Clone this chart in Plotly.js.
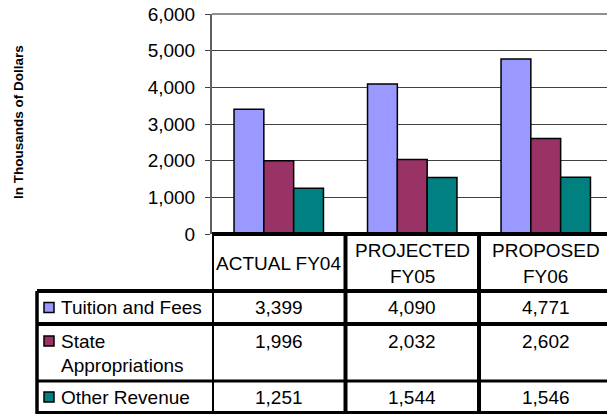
<!DOCTYPE html>
<html>
<head>
<meta charset="utf-8">
<script src="https://cdn.plot.ly/plotly-3.0.1.min.js"></script>
<style>
html,body{margin:0;padding:0;background:#fff;overflow:hidden;}
#chart{width:607px;height:414px;}
</style>
</head>
<body>
<div id="chart"></div>
<script>
// ---- data ----
const categories = ['ACTUAL FY04', 'PROJECTED FY05', 'PROPOSED FY06'];
const headerLines = [['ACTUAL FY04'], ['PROJECTED', 'FY05'], ['PROPOSED', 'FY06']];
const seriesNames = ['Tuition and Fees', 'State Appropriations', 'Other Revenue'];
const seriesLegendLines = [['Tuition and Fees'], ['State', 'Appropriations'], ['Other Revenue']];
const tuitionFees = [3399, 4090, 4771];
const stateAppropriations = [1996, 2032, 2602];
const otherRevenue = [1251, 1544, 1546];
const yTicks = [0, 1000, 2000, 3000, 4000, 5000, 6000];
const yTitle = 'In Thousands of Dollars';

// ---- styles ----
const colors = ['#9999FF', '#993366', '#008080'];
const FONT = '"Liberation Sans", Arial, sans-serif';
const FS = 19;
const seriesValues = [tuitionFees, stateAppropriations, otherRevenue];

// pixel helpers (plot area: x 212..607, y 14..234)
const L = 212, W = 395, T = 14, B = 234, H = 220, COLW = 133.5;
const px = v => (v - L) / W;
const py = v => (B - v) / H;

const traces = seriesNames.map((n, i) => ({
  type: 'bar', name: n, x: categories, y: seriesValues[i],
  marker: {color: colors[i], line: {color: '#000', width: 1.5}},
  hoverinfo: 'none'
}));

const shapes = [];
const annotations = [];
const line = (x0, y0, x1, y1, w, xref) => shapes.push({
  type: 'line', xref: xref || 'paper', yref: 'paper', x0, y0, x1, y1,
  line: {color: '#000', width: w}
});
// plot area top border
shapes.push({type:'line', xref:'paper', yref:'paper', x0:0, x1:1, y0:1, y1:1, line:{color:'#909090', width:2}});
// table rows boundaries (pixels)
const rowTop = [234, 291, 324, 381, 413];
// header top line (x axis)
line(0, py(234), 1, py(234), 4);
// horizontal lines across legend column + data
for (let r = 1; r < rowTop.length; r++) {
  line(px(37), py(rowTop[r]), 1, py(rowTop[r]), r === 3 ? 3 : 4);
}
// vertical lines between columns
categories.forEach((c, i) => {
  line(i - 0.5, py(234), i - 0.5, py(414), 4, 'x');
});
// legend column left border
line(px(37), py(rowTop[1]), px(37), py(414), 3.5);

// header text
categories.forEach((c, i) => {
  const lines = headerLines[i];
  const cy = (rowTop[0] + rowTop[1]) / 2 + 1;
  const sp = 25;
  lines.forEach((t, k) => {
    annotations.push({xref:'x', yref:'paper', x:i, y:py(cy + (k - (lines.length - 1) / 2) * sp),
      text:t, showarrow:false, font:{family:FONT, size:FS, color:'#000'}, xanchor:'center', yanchor:'middle'});
  });
});
// data cells
seriesValues.forEach((vals, r) => {
  const top = rowTop[r + 1], bot = rowTop[r + 2];
  const cy = (r === 1) ? top + 17 : (top + bot) / 2;
  vals.forEach((v, i) => {
    annotations.push({xref:'x', yref:'paper', x:i, y:py(cy),
      text:v.toLocaleString('en-US'), showarrow:false, font:{family:FONT, size:FS, color:'#000'}, xanchor:'center', yanchor:'middle'});
  });
  // legend swatch
  const sy = cy;
  shapes.push({type:'rect', xref:'paper', yref:'paper', x0:px(44), x1:px(54), y0:py(sy - 5), y1:py(sy + 5),
    fillcolor: colors[r], line:{color:'#000', width:1.5}});
  seriesLegendLines[r].forEach((t, k) => {
    annotations.push({xref:'paper', yref:'paper', x:px(59), y:py(cy + k * 24),
      text:t, showarrow:false, font:{family:FONT, size:FS, color:'#000'}, xanchor:'left', yanchor:'middle'});
  });
});
// y title
annotations.push({xref:'paper', yref:'paper', x:px(18), y:py(122), text:'<b>' + yTitle + '</b>', textangle:-90,
  showarrow:false, font:{family:FONT, size:13.5, color:'#000'}, xanchor:'center', yanchor:'middle'});

const layout = {
  width: 607, height: 414,
  margin: {l: L, r: 0, t: T, b: 414 - B, pad: 0},
  paper_bgcolor: '#fff', plot_bgcolor: '#fff',
  showlegend: false,
  barmode: 'group', bargap: 0.33, bargroupgap: 0,
  font: {family: FONT, size: FS, color: '#000'},
  xaxis: {type: 'category', range: [-0.5, -0.5 + W / COLW], showticklabels: false, showgrid: false,
    zeroline: false, showline: false, ticks: '', fixedrange: true},
  yaxis: {range: [0, 6000], tickvals: yTicks, ticktext: yTicks.map(v => v.toLocaleString('en-US')),
    showgrid: true, gridcolor: '#404040', gridwidth: 1, zeroline: false,
    showline: true, linecolor: '#606060', linewidth: 2, ticks: 'outside', ticklen: 5, tickcolor: '#404040',
    tickfont: {family: FONT, size: FS, color: '#000'}, ticklabelstandoff: 6, fixedrange: true},
  shapes, annotations
};

Plotly.newPlot('chart', traces, layout, {displayModeBar: false, staticPlot: true});
</script>
</body>
</html>
